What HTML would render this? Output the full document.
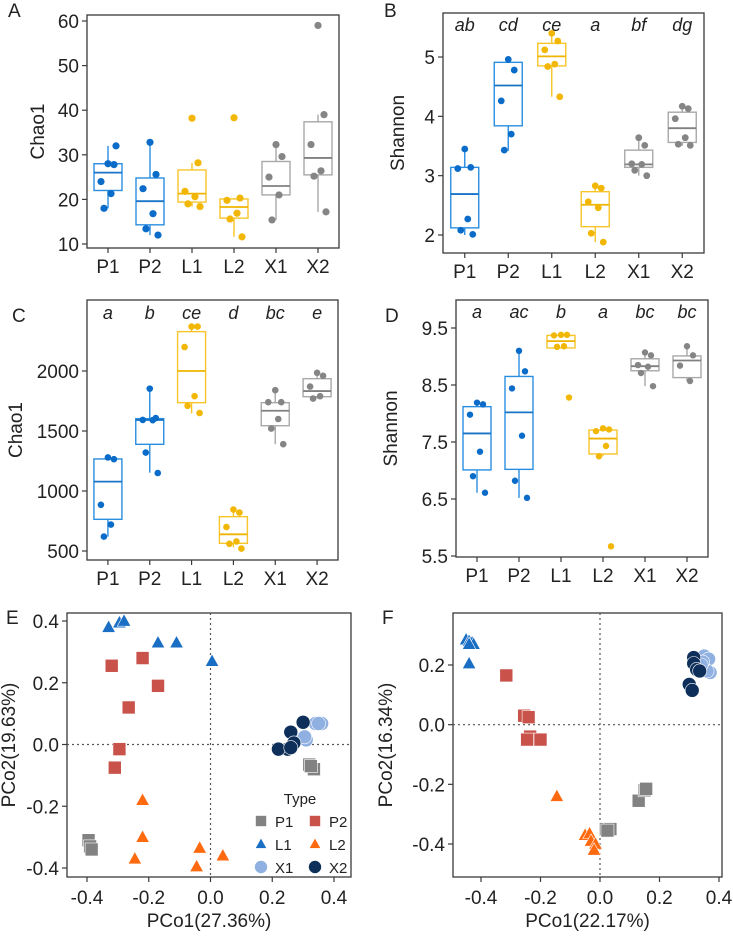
<!DOCTYPE html>
<html><head><meta charset="utf-8"><style>
body{margin:0;background:#fff}
svg{display:block;font-family:"Liberation Sans",Arial,sans-serif}
</style></head><body>
<svg id="fig" width="733" height="936" viewBox="0 0 733 936" xmlns="http://www.w3.org/2000/svg"></svg>
<script>
const groups=["P1","P2","L1","L2","X1","X2"];
// Panel A Chao1 (q1, median, q3, whisker low, whisker high)
const aQ1=[22,14.3,19.4,15.8,21,25.5], aMed=[26,19.6,21.3,18.3,23,29.3], aQ3=[28,24.8,26.6,20.1,28.5,37.4];
const aLo=[18,12,18.4,11.6,15.4,17.2], aHi=[32,32.8,28.2,20.3,32.3,39];
const aPts=[[28,27.8,24,21.3,18,32],[32.8,25.6,22.4,16.8,13.4,12],[38.2,28.2,21.8,20.6,19,18.4],[38.3,20.3,19.8,16.9,15.6,11.6],[32.3,29.6,25,21,15.4],[59,39,32.3,26.4,25.2,17.2]];
const aTicks=[10,20,30,40,50,60];
// Panel B Shannon
const bQ1=[2.12,3.84,4.85,2.14,3.14,3.56], bMed=[2.69,4.52,5.01,2.51,3.19,3.8], bQ3=[3.14,4.91,5.23,2.73,3.43,4.07];
const bLo=[2.0,3.42,4.33,1.88,3.0,3.5], bHi=[3.45,4.95,5.4,2.83,3.64,4.17];
const bPts=[[3.45,3.14,3.12,2.27,2.08,2.01],[4.96,4.78,4.26,3.70,3.43],[5.4,5.27,5.12,4.88,4.84,4.33],[2.83,2.79,2.56,2.46,2.03,1.88],[3.64,3.51,3.2,3.19,3.09,3.0],[4.17,4.13,3.96,3.64,3.53,3.51]];
const bTicks=[2,3,4,5];
const bLetters=["ab","cd","ce","a","bf","dg"];
// Panel C Chao1
const cQ1=[764,1389,1736,564,1544,1786], cMed=[1078,1592,2000,639,1669,1833], cQ3=[1267,1603,2328,786,1736,1936];
const cLo=[620,1153,1647,530,1390,1770], cHi=[1280,1853,2370,845,1840,1985];
const cPts=[[1280,1265,885,720,620],[1853,1608,1592,1590,1320,1150],[2370,2370,2200,1790,1710,1650],[845,820,700,580,560,520],[1840,1740,1740,1600,1520,1390],[1985,1960,1870,1790,1770]];
const cTicks=[500,1000,1500,2000];
const cLetters=["a","b","ce","d","bc","e"];
// Panel D Shannon
const dQ1=[7.01,7.02,9.15,7.29,8.75,8.63], dMed=[7.65,8.02,9.27,7.56,8.83,8.93], dQ3=[8.12,8.65,9.37,7.71,8.96,9.01];
const dLo=[6.61,6.52,9.15,7.25,8.48,8.57], dHi=[8.19,9.1,9.38,7.74,9.07,9.18];
const dPts=[[8.19,8.16,7.98,7.33,6.9,6.61],[9.1,8.74,8.44,7.61,6.82,6.52],[9.38,9.38,9.37,9.18,9.17,8.28],[7.74,7.72,7.69,7.43,7.25,5.67],[9.07,9.02,8.85,8.82,8.71,8.48],[9.18,9.02,8.84,8.57]];
const dTicks=[5.5,6.5,7.5,8.5,9.5];
const dLetters=["a","ac","b","a","bc","bc"];
// Panel E PCoA
const eX={P1:[-0.395,-0.39,-0.385,0.32,0.335,0.325],P2:[-0.32,-0.22,-0.17,-0.265,-0.295,-0.31],L1:[-0.33,-0.295,-0.28,-0.17,-0.11,0.005],L2:[-0.22,-0.22,-0.245,-0.035,-0.045,0.04],X1:[0.34,0.36,0.35,0.30,0.31,0.305],X2:[0.30,0.26,0.27,0.25,0.22,0.26]};
const eY={P1:[-0.31,-0.33,-0.34,-0.065,-0.08,-0.07],P2:[0.255,0.28,0.19,0.12,-0.015,-0.075],L1:[0.38,0.395,0.40,0.33,0.33,0.27],L2:[-0.18,-0.30,-0.37,-0.335,-0.395,-0.36],X1:[0.068,0.068,0.068,0.02,0.015,0.025],X2:[0.072,0.04,0.005,-0.015,-0.015,-0.01]};
const eXTicks=[-0.4,-0.2,0.0,0.2,0.4], eYTicks=[-0.4,-0.2,0.0,0.2,0.4];
// Panel F PCoA
const fX={L1:[-0.45,-0.44,-0.43,-0.425,-0.44,-0.44],P2:[-0.315,-0.255,-0.24,-0.235,-0.245,-0.2],L2:[-0.145,-0.05,-0.035,-0.03,-0.015,-0.02],P1:[0.02,0.035,0.025,0.13,0.15,0.155],X1:[0.35,0.365,0.37,0.36,0.345,0.34],X2:[0.315,0.315,0.325,0.335,0.3,0.31]};
const fY={L1:[0.285,0.28,0.275,0.27,0.27,0.205],P2:[0.165,0.03,0.025,-0.04,-0.05,-0.05],L2:[-0.24,-0.37,-0.365,-0.39,-0.4,-0.42],P1:[-0.35,-0.35,-0.355,-0.255,-0.22,-0.215],X1:[0.23,0.22,0.175,0.18,0.21,0.2],X2:[0.225,0.205,0.185,0.18,0.135,0.115]};
const fXTicks=[-0.4,-0.2,0.0,0.2,0.4], fYTicks=[-0.4,-0.2,0.0,0.2];

const NS="http://www.w3.org/2000/svg";
const svg=document.getElementById('fig');
function mk(tag,attrs,parent,text){const e=document.createElementNS(NS,tag);for(const k in attrs)e.setAttribute(k,attrs[k]);if(text!==undefined)e.textContent=text;(parent||svg).appendChild(e);return e;}
const boxCol=["#2a8ee0","#2a8ee0","#f7c52a","#f7c52a","#a8a8a8","#a8a8a8"];
const medCol=["#1a74c8","#1a74c8","#efb400","#efb400","#808080","#808080"];
const ptCol=["#0a6cc8","#0a6cc8","#f2b705","#f2b705","#858585","#858585"];
const jit=[0,6,-7,3,-4,8,-2];
const TF=19;
function fmt(v,d){return v.toFixed(d);}

function boxPanel(o){
  const g=mk('g',{},svg);
  
  
  const y=v=>o.y0px+(v-o.y0)*(o.y1px-o.y0px)/(o.y1-o.y0);
  const step=(o.xr-o.xl)/6; const x=i=>o.xl+step*(i+0.5);
  const fr=mk('rect',{x:o.xl,y:o.yt,width:o.xr-o.xl,height:o.yb-o.yt,fill:'none',stroke:'#3a3a3a','stroke-width':1.3},g);
  
  o.ticks.forEach(t=>{
    mk('line',{x1:o.xl-5,x2:o.xl,y1:y(t),y2:y(t),stroke:'#3a3a3a','stroke-width':1.2},g);
    const tl=mk('text',{x:o.xl-8,y:y(t)+7,'text-anchor':'end','font-size':TF,fill:'#222'},g,fmt(t,o.dec));
    
  });
  groups.forEach((gname,i)=>{
    const cx=x(i),w=14;
    mk('line',{x1:cx,x2:cx,y1:o.yb,y2:o.yb+5,stroke:'#3a3a3a','stroke-width':1.2},g);
    const xl=mk('text',{x:cx,y:o.yb+25,'text-anchor':'middle','font-size':TF,fill:'#222'},g,gname);
    
    const bg=mk('g',{},g);
    
    
    mk('line',{x1:cx,x2:cx,y1:y(o.hi[i]),y2:y(o.q3[i]),stroke:boxCol[i],'stroke-width':1.4},bg);
    mk('line',{x1:cx,x2:cx,y1:y(o.q1[i]),y2:y(o.lo[i]),stroke:boxCol[i],'stroke-width':1.4},bg);
    mk('rect',{x:cx-w,y:y(o.q3[i]),width:2*w,height:Math.max(1,y(o.q1[i])-y(o.q3[i])),fill:'#fff',stroke:boxCol[i],'stroke-width':1.4},bg);
    mk('line',{x1:cx-w,x2:cx+w,y1:y(o.med[i]),y2:y(o.med[i]),stroke:medCol[i],'stroke-width':1.8},bg);
    o.pts[i].forEach((v,j)=>{
      const p=mk('circle',{cx:cx+jit[j%jit.length],cy:y(v),r:o.r,fill:ptCol[i]},bg);
      
      
    });
    if(o.letters){
      const lt=mk('text',{x:cx,y:o.letY,'text-anchor':'middle','font-size':18,'font-style':'italic',fill:'#222'},g,o.letters[i]);
      
    }
  });
  const yt=mk('text',{x:o.ylabX,y:(o.yt+o.yb)/2,'text-anchor':'middle','font-size':19,fill:'#222',transform:`rotate(-90 ${o.ylabX} ${(o.yt+o.yb)/2})`},g,o.ylab);
  
  const pl=mk('text',{x:o.panX,y:o.panY,'font-size':19,fill:'#222'},g,o.panel);
  
}
boxPanel({name:'panel-a',panel:'A',panX:8,panY:17,xl:87,xr:339,yt:15,yb:248,y0:10,y0px:244,y1:60,y1px:21,ticks:aTicks,dec:0,q1:aQ1,med:aMed,q3:aQ3,lo:aLo,hi:aHi,pts:aPts,r:3.6,ylab:'Chao1',ylabX:44});
boxPanel({name:'panel-b',panel:'B',panX:384,panY:17,xl:443,xr:704,yt:13,yb:253,y0:2,y0px:235,y1:5,y1px:57,ticks:bTicks,dec:0,q1:bQ1,med:bMed,q3:bQ3,lo:bLo,hi:bHi,pts:bPts,r:3.4,ylab:'Shannon',ylabX:404,letters:bLetters,letY:31});
boxPanel({name:'panel-c',panel:'C',panX:12,panY:322,xl:87,xr:338,yt:300,yb:560,y0:500,y0px:551,y1:2000,y1px:371,ticks:cTicks,dec:0,q1:cQ1,med:cMed,q3:cQ3,lo:cLo,hi:cHi,pts:cPts,r:3.3,ylab:'Chao1',ylabX:22,letters:cLetters,letY:319});
boxPanel({name:'panel-d',panel:'D',panX:385,panY:322,xl:456,xr:708,yt:300,yb:557,y0:5.5,y0px:556,y1:9.5,y1px:328,ticks:dTicks,dec:1,q1:dQ1,med:dMed,q3:dQ3,lo:dLo,hi:dHi,pts:dPts,r:3.2,ylab:'Shannon',ylabX:397,letters:dLetters,letY:318});

const pCol={P1:'#828282',P2:'#c9534a',L1:'#1a6fc4',L2:'#ff6a10',X1:'#8fb0e0',X2:'#0d2f5a'};
const pShape={P1:'sq',P2:'sq',L1:'tri',L2:'tri',X1:'circ',X2:'circ'};
function marker(parent,shape,cx,cy,col,s){
  if(shape==='sq')return mk('rect',{x:cx-s,y:cy-s,width:2*s,height:2*s,fill:col,stroke:'#fff','stroke-width':0.6},parent);
  if(shape==='tri')return mk('polygon',{points:`${cx},${cy-s*1.1} ${cx-s*1.05},${cy+s*0.8} ${cx+s*1.05},${cy+s*0.8}`,fill:col,stroke:'#fff','stroke-width':0.6},parent);
  return mk('circle',{cx:cx,cy:cy,r:s,fill:col,stroke:'#fff','stroke-width':0.6},parent);
}
function pcoaPanel(o){
  const g=mk('g',{},svg);
  
  
  const x=v=>o.ax0px+(v-o.ax0)*(o.ax1px-o.ax0px)/(o.ax1-o.ax0);
  const y=v=>o.ay0px+(v-o.ay0)*(o.ay1px-o.ay0px)/(o.ay1-o.ay0);
  const fr=mk('rect',{x:o.xl,y:o.yt,width:o.xr-o.xl,height:o.yb-o.yt,fill:'none',stroke:'#3a3a3a','stroke-width':1.3},g);
  
  mk('line',{x1:x(0),x2:x(0),y1:o.yt,y2:o.yb,stroke:'#555','stroke-width':1.2,'stroke-dasharray':'2,3'},g);
  mk('line',{x1:o.xl,x2:o.xr,y1:y(0),y2:y(0),stroke:'#555','stroke-width':1.2,'stroke-dasharray':'2,3'},g);
  o.xt.forEach(t=>{
    mk('line',{x1:x(t),x2:x(t),y1:o.yb,y2:o.yb+5,stroke:'#3a3a3a','stroke-width':1.2},g);
    const tl=mk('text',{x:x(t),y:o.yb+27,'text-anchor':'middle','font-size':TF,fill:'#222'},g,t.toFixed(1));
    
  });
  o.yticks.forEach(t=>{
    mk('line',{x1:o.xl-5,x2:o.xl,y1:y(t),y2:y(t),stroke:'#3a3a3a','stroke-width':1.2},g);
    const tl=mk('text',{x:o.xl-8,y:y(t)+7,'text-anchor':'end','font-size':TF,fill:'#222'},g,t.toFixed(1));
    
  });
  Object.keys(o.X).forEach(k=>{
    o.X[k].forEach((v,j)=>{
      const m=marker(g,pShape[k],x(v),y(o.Y[k][j]),pCol[k],pShape[k]==='circ'?7:6.5);
      
      
    });
  });
  const xt=mk('text',{x:(o.xl+o.xr)/2,y:o.yb+50,'text-anchor':'middle','font-size':19,fill:'#222'},g,o.xlab);
  
  const cy=(o.yt+o.yb)/2;
  const yt=mk('text',{x:o.ylabX,y:cy,'text-anchor':'middle','font-size':19,fill:'#222',transform:`rotate(-90 ${o.ylabX} ${cy})`},g,o.ylab);
  
  const pl=mk('text',{x:o.panX,y:o.panY,'font-size':19,fill:'#222'},g,o.panel);
  
  if(o.legend){
    const lg=mk('g',{},g);
    
    mk('text',{x:300,y:804,'text-anchor':'middle','font-size':15,fill:'#222'},lg,'Type');
    const rows=[["P1","P2"],["L1","L2"],["X1","X2"]];
    rows.forEach((r,ri)=>{r.forEach((k,ci)=>{
      const e=mk('g',{},lg);
      
      
      const sx=ci?315:261, sy=821+ri*23;
      marker(e,pShape[k],sx,sy,pCol[k],pShape[k]==='circ'?6.5:5.5);
      mk('text',{x:sx+14,y:sy+6,'font-size':15,fill:'#222'},e,k);
    });});
  }
}
pcoaPanel({name:'panel-e',panel:'E',panX:6,panY:624,xl:67,xr:351,yt:613,yb:877,ax0:-0.4,ax0px:87,ax1:0.4,ax1px:334,ay0:-0.4,ay0px:868,ay1:0.4,ay1px:621,xt:eXTicks,yticks:eYTicks,X:eX,Y:eY,xlab:'PCo1(27.36%)',ylab:'PCo2(19.63%)',ylabX:15,legend:true});
pcoaPanel({name:'panel-f',panel:'F',panX:382,panY:624,xl:453,xr:722,yt:613,yb:877,ax0:-0.4,ax0px:481,ax1:0.4,ax1px:719,ay0:-0.4,ay0px:844,ay1:0.2,ay1px:665,xt:fXTicks,yticks:fYTicks,X:fX,Y:fY,xlab:'PCo1(22.17%)',ylab:'PCo2(16.34%)',ylabX:392});
</script>
</body></html>
